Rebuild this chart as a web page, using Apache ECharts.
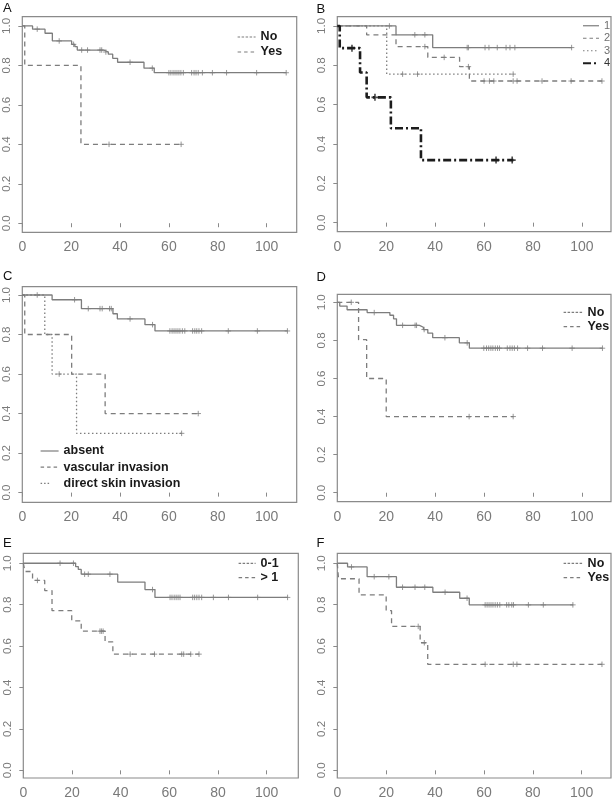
<!DOCTYPE html>
<html><head><meta charset="utf-8">
<script src="https://cdn.jsdelivr.net/npm/echarts@6/dist/echarts.min.js"></script>
<style>html,body{margin:0;padding:0;background:#fff}#c{width:614px;height:800px}</style>
</head><body><div id="c"></div>
<script>
// ---------- tick labels ----------
const xTicks = [0, 20, 40, 60, 80, 100];
const yTicks = [0, 0.2, 0.4, 0.6, 0.8, 1.0];
const panelLetters = ['A', 'B', 'C', 'D', 'E', 'F'];

// ---------- Panel A ----------
const aNoT = [0, 4.2, 9.3, 12.3, 20.2, 21.5, 22.5, 33.4, 35.2, 37, 39, 49.8, 54];
const aNoS = [1, 0.984, 0.963, 0.924, 0.907, 0.895, 0.878, 0.868, 0.857, 0.836, 0.816, 0.786, 0.763];
const aNoCens = [6.1, 15.1, 21, 24.3, 26.7, 31.8, 32.5, 34.2, 44.1, 53.2, 60.0, 60.8, 61.7, 62.5, 63.3, 64.1, 64.9, 65.9, 69.3, 70.3, 71.1, 72.0, 73.7, 77.8, 83.6, 95.9, 108];
const aNoEnd = 108;
const aYesT = [0, 1, 24];
const aYesS = [1, 0.8, 0.4];
const aYesCens = [35.5, 65];
const aYesEnd = 65;

// ---------- Panel B ----------
const b1T = [0, 24, 39];
const b1S = [1, 0.955, 0.89];
const b1Cens = [21.3, 31.7, 35.8, 53.1, 53.6, 60.4, 62, 65.4, 69, 70.6, 72.6, 95.8];
const b1End = 96;
const b2T = [0, 12, 24, 37, 50, 54];
const b2S = [1, 0.955, 0.895, 0.84, 0.793, 0.72];
const b2Cens = [35.8, 43.7, 53.6, 60.0, 62.2, 64.0, 71.9, 73.5, 83.7, 95.6, 108.2];
const b2End = 108.2;
const b3T = [0, 20.2];
const b3S = [1, 0.755];
const b3Cens = [26.7, 32.8, 71.9];
const b3End = 72;
const b4T = [0, 1, 9.3, 12, 21.9, 34.2];
const b4S = [1, 0.887, 0.763, 0.637, 0.48, 0.318];
const b4Cens = [6, 15.4, 64.9, 71.5];
const b4End = 72;

// ---------- Panel C ----------
const cAbsT = [0, 12.2, 24.2, 37.1, 38.9, 50.2, 54.3];
const cAbsS = [1, 0.976, 0.931, 0.905, 0.879, 0.85, 0.818];
const cAbsCens = [6.1, 21.4, 27, 31.8, 32.7, 35.7, 36.4, 44.1, 53.3, 60.4, 61.3, 62.1, 62.9, 63.7, 64.5, 65.5, 66.5, 69.7, 70.6, 71.4, 72.3, 73.4, 84.3, 96.2, 108.5];
const cAbsEnd = 108.5;
const cVasT = [0, 1, 20.2, 33.9];
const cVasS = [1, 0.8, 0.6, 0.4];
const cVasCens = [72];
const cVasEnd = 72;
const cSkinT = [0, 9.2, 12.2, 22.2];
const cSkinS = [1, 0.8, 0.6, 0.3];
const cSkinCens = [15.1, 65.2];
const cSkinEnd = 65.2;

// ---------- Panel D ----------
const dNoT = [0, 1, 4, 12.2, 21.5, 23, 24.2, 33.6, 35.2, 37, 39, 49.9, 54];
const dNoS = [1, 0.98, 0.961, 0.946, 0.932, 0.913, 0.879, 0.869, 0.857, 0.838, 0.814, 0.787, 0.759];
const dNoCens = [15.1, 26.7, 31.8, 32.4, 35.5, 44, 53.1, 59.9, 61, 61.9, 62.8, 63.6, 64.6, 65.5, 66.3, 69.5, 70.6, 71.5, 72.4, 73.7, 77.8, 83.9, 96, 108.4];
const dNoEnd = 108.4;
const dYesT = [0, 8.7, 12, 20];
const dYesS = [1, 0.804, 0.6, 0.4];
const dYesCens = [5.7, 53.9, 71.9];
const dYesEnd = 72;

// ---------- Panel E ----------
const eLowT = [0, 21.5, 22.6, 23.8, 38.8, 50, 54.1];
const eLowS = [1, 0.984, 0.97, 0.947, 0.909, 0.873, 0.835];
const eLowCens = [15.1, 20.6, 25.2, 26.7, 35.6, 53.1, 60.3, 61.1, 62, 62.8, 63.6, 64.4, 69.6, 70.4, 71.3, 72.2, 73.3, 78.1, 84.3, 96.3, 108.6];
const eLowEnd = 108.6;
const eHighT = [0, 0.7, 3.8, 8.8, 11.8, 19.9, 23.8, 33.6, 36.8];
const eHighS = [1, 0.96, 0.917, 0.868, 0.771, 0.722, 0.672, 0.62, 0.561];
const eHighCens = [5.8, 31.5, 32.1, 32.8, 43.9, 53.9, 65.1, 65.9, 68.8, 72.2];
const eHighEnd = 72.2;

// ---------- Panel F ----------
const fNoT = [0, 4.2, 12.2, 24.2, 39.1, 50.1, 54];
const fNoS = [1, 0.982, 0.935, 0.884, 0.86, 0.831, 0.799];
const fNoCens = [5.8, 15.1, 21.1, 26.7, 31.8, 35.8, 44.1, 53.1, 60.5, 61.3, 62.1, 62.9, 63.7, 64.6, 65.5, 66.5, 69.3, 70.2, 71.4, 72.1, 78.2, 84.3, 96.4];
const fNoEnd = 96.5;
const fYesT = [0, 0.5, 8.9, 20, 22.2, 33.9, 37];
const fYesS = [1, 0.925, 0.847, 0.771, 0.695, 0.616, 0.512];
const fYesCens = [33.1, 35.6, 60.5, 72, 73.5, 108.3];
const fYesEnd = 108.3;

// ---------- styles ----------
const GRAY = '#7d7d7d';
const DARK = '#1c1c1c';
const SOLID = 'solid';
const DASHED = [5, 4];
const DOTTED = [1.5, 2.5];
const DASHDOT = [8, 3, 2, 3];

// box layout (px): left, top, right, bottom ; axis ranges
const layout = [
  {box: [22.3, 16.7, 296.7, 232.3], xMax: 112.3, yMin: -0.046, yMax: 1.047},
  {box: [337.3, 16.7, 611, 231.7], xMax: 111.9, yMin: -0.046, yMax: 1.047},
  {box: [22.3, 286.7, 296.7, 502.3], xMax: 112.3, yMin: -0.049, yMax: 1.042},
  {box: [337.3, 294.3, 611, 501.7], xMax: 111.9, yMin: -0.047, yMax: 1.042},
  {box: [23.3, 553.3, 298.3, 778.3], xMax: 113.0, yMin: -0.037, yMax: 1.048},
  {box: [337.3, 553.3, 611, 778.3], xMax: 112.0, yMin: -0.037, yMax: 1.048}
];
const letterPos = [[3, 1.5], [316.5, 2.5], [3, 269.5], [316.5, 271], [3, 536.5], [316.5, 536.5]];

const curves = [
  {p: 0, name: 'No', t: aNoT, s: aNoS, c: aNoCens, end: aNoEnd, col: GRAY, w: 1.3, dash: SOLID},
  {p: 0, name: 'Yes', t: aYesT, s: aYesS, c: aYesCens, end: aYesEnd, col: GRAY, w: 1.3, dash: DASHED},
  {p: 1, name: '1', t: b1T, s: b1S, c: b1Cens, end: b1End, col: GRAY, w: 1.3, dash: SOLID},
  {p: 1, name: '2', t: b2T, s: b2S, c: b2Cens, end: b2End, col: GRAY, w: 1.3, dash: DASHED},
  {p: 1, name: '3', t: b3T, s: b3S, c: b3Cens, end: b3End, col: GRAY, w: 1.3, dash: DOTTED},
  {p: 1, name: '4', t: b4T, s: b4S, c: b4Cens, end: b4End, col: DARK, w: 2.6, dash: DASHDOT},
  {p: 2, name: 'absent', t: cAbsT, s: cAbsS, c: cAbsCens, end: cAbsEnd, col: GRAY, w: 1.3, dash: SOLID},
  {p: 2, name: 'vascular invasion', t: cVasT, s: cVasS, c: cVasCens, end: cVasEnd, col: GRAY, w: 1.3, dash: DASHED},
  {p: 2, name: 'direct skin invasion', t: cSkinT, s: cSkinS, c: cSkinCens, end: cSkinEnd, col: GRAY, w: 1.3, dash: DOTTED},
  {p: 3, name: 'No ', t: dNoT, s: dNoS, c: dNoCens, end: dNoEnd, col: GRAY, w: 1.3, dash: SOLID},
  {p: 3, name: 'Yes ', t: dYesT, s: dYesS, c: dYesCens, end: dYesEnd, col: GRAY, w: 1.3, dash: DASHED},
  {p: 4, name: '0-1', t: eLowT, s: eLowS, c: eLowCens, end: eLowEnd, col: GRAY, w: 1.3, dash: SOLID},
  {p: 4, name: '> 1', t: eHighT, s: eHighS, c: eHighCens, end: eHighEnd, col: GRAY, w: 1.3, dash: DASHED},
  {p: 5, name: 'No  ', t: fNoT, s: fNoS, c: fNoCens, end: fNoEnd, col: GRAY, w: 1.3, dash: SOLID},
  {p: 5, name: 'Yes  ', t: fYesT, s: fYesS, c: fYesCens, end: fYesEnd, col: GRAY, w: 1.3, dash: DASHED}
];

function survAt(t, s, x) {
  let v = s[0];
  for (let i = 0; i < t.length; i++) if (t[i] <= x) v = s[i];
  return v;
}

const FONT = 'Liberation Sans, Arial, Helvetica, sans-serif';
const grids = [], xAxes = [], yAxes = [], titles = [], series = [];
layout.forEach((L, k) => {
  const [l, t, r, b] = L.box;
  grids.push({left: l, top: t, width: r - l, height: b - t, show: true, borderColor: '#8a8a8a', borderWidth: 1.2, containLabel: false});
  xAxes.push({
    type: 'value', gridIndex: k, min: 0, max: L.xMax,
    axisLine: {show: false}, splitLine: {show: false},
    axisTick: {show: true, length: 4, lineStyle: {color: '#8a8a8a', width: 1}, customValues: xTicks},
    axisLabel: {customValues: xTicks, margin: 8, fontSize: 14, color: '#7a7a7a', fontFamily: FONT}
  });
  yAxes.push({
    type: 'value', gridIndex: k, min: L.yMin, max: L.yMax,
    axisLine: {show: false}, splitLine: {show: false},
    axisTick: {show: true, length: 4, lineStyle: {color: '#8a8a8a', width: 1}, customValues: yTicks},
    axisLabel: {customValues: yTicks, rotate: 90, margin: 9, fontSize: 11.5, color: '#7a7a7a', fontFamily: FONT,
      formatter: v => v.toFixed(1)}
  });
  titles.push({text: panelLetters[k], left: letterPos[k][0], top: letterPos[k][1], padding: 0,
    textStyle: {fontSize: 13, fontWeight: 'normal', color: '#111', fontFamily: FONT}});
});

curves.forEach(cv => {
  const data = cv.t.map((x, i) => [x, cv.s[i]]);
  data.push([cv.end, cv.s[cv.s.length - 1]]);
  series.push({
    type: 'line', name: cv.name, xAxisIndex: cv.p, yAxisIndex: cv.p, step: 'end',
    symbol: 'none', data: data, z: cv.col === DARK ? 4 : 3,
    itemStyle: {color: cv.col},
    lineStyle: {color: cv.col, width: cv.w, type: cv.dash}
  });
  series.push({
    type: 'scatter', name: cv.name + ' censored', xAxisIndex: cv.p, yAxisIndex: cv.p,
    symbol: 'path://M5,0L5,10M0,5L10,5', symbolSize: cv.col === DARK ? 7 : 5.5, z: 5,
    itemStyle: {color: 'transparent', borderColor: cv.col, borderWidth: cv.col === DARK ? 1.6 : 1},
    data: cv.c.map(x => [x, survAt(cv.t, cv.s, x)])
  });
});

const LG_DOT = {type: [2.5, 1.5], color: GRAY, width: 1.2};
const LG_DASH = {type: [3.5, 3], color: GRAY, width: 1.2};
const LG_SOLID = {color: GRAY, width: 1.2};
function lg(left, top, iw, spacing, fs, bold, items, txtCol) {
  const lh = Math.min(spacing, 14);
  return {
    orient: 'vertical', left: left, top: top, padding: 0, itemWidth: iw, itemHeight: 8,
    itemGap: spacing - lh, selectedMode: false,
    itemStyle: {color: 'transparent', borderColor: 'transparent', borderWidth: 0, opacity: 0},
    textStyle: {fontSize: fs, fontWeight: bold ? 'bold' : 'normal', color: txtCol, lineHeight: lh, fontFamily: FONT},
    data: items
  };
}
const legends = [
  lg(237, 30, 18, 15, 12.5, true, [{name: 'No', lineStyle: LG_DOT}, {name: 'Yes', lineStyle: LG_DASH}], '#1a1a1a'),
  lg(582, 19.5, 16, 12.5, 11, false, [{name: '1', lineStyle: LG_SOLID}, {name: '2', lineStyle: LG_DASH}, {name: '3', lineStyle: {type: [1.5, 2.5], color: GRAY, width: 1.2}}, {name: '4', textStyle: {color: '#333'}}], '#707070'),
  lg(40, 444, 18, 16.2, 12.5, true, [{name: 'absent', lineStyle: LG_SOLID}, {name: 'vascular invasion', lineStyle: LG_DASH}, {name: 'direct skin invasion', lineStyle: {type: [1.5, 2, 1.5, 2, 1.5, 40], color: GRAY, width: 1.2}}], '#1a1a1a'),
  lg(563, 305.3, 19, 14.4, 12.5, true, [{name: 'No ', lineStyle: LG_DOT}, {name: 'Yes ', lineStyle: LG_DASH}], '#1a1a1a'),
  lg(238, 556.3, 17, 14.4, 12.5, true, [{name: '0-1', lineStyle: LG_DOT}, {name: '> 1', lineStyle: LG_DASH}], '#1a1a1a'),
  lg(563, 556.3, 19, 14.4, 12.5, true, [{name: 'No  ', lineStyle: LG_DOT}, {name: 'Yes  ', lineStyle: LG_DASH}], '#1a1a1a')
];

const chart = echarts.init(document.getElementById('c'), null, {renderer: 'canvas'});
chart.setOption({
  animation: false,
  backgroundColor: '#ffffff',
  textStyle: {fontFamily: FONT},
  title: titles,
  legend: legends,
  grid: grids,
  xAxis: xAxes,
  yAxis: yAxes,
  series: series
});
</script></body></html>
